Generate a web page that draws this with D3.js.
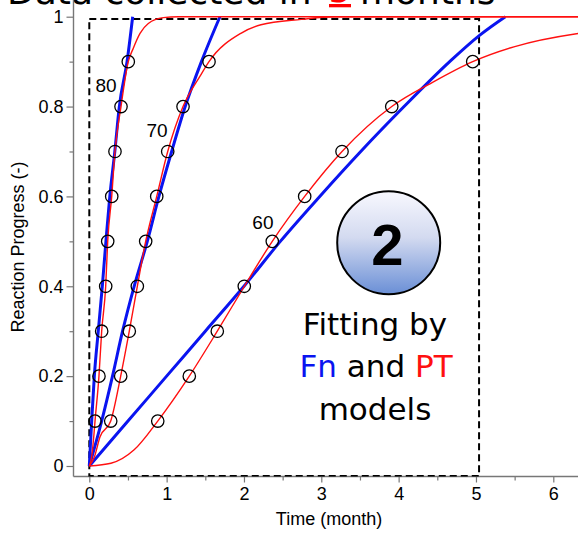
<!DOCTYPE html>
<html>
<head>
<meta charset="utf-8">
<script src="https://cdn.jsdelivr.net/npm/d3@7"></script>
<style>
  body { margin: 0; background: #fff; }
  svg { display: block; }
</style>
</head>
<body>
<div id="chart"></div>
<script>
// measured points: time (month) at which each conversion level is reached
var levels = [0.1, 0.2, 0.3, 0.4, 0.5, 0.6, 0.7, 0.8, 0.9];
var obs80 = [0.074, 0.125, 0.160, 0.212, 0.238, 0.290, 0.332, 0.410, 0.504];
var obs70 = [0.277, 0.406, 0.517, 0.621, 0.729, 0.872, 1.014, 1.212, 1.548];
var obs60 = [0.885, 1.293, 1.655, 2.004, 2.366, 2.785, 3.268, 3.911, 4.958];

// Fn model fits [time, progress]
var fn80 = [[0, 0], [0.031, 0.1], [0.065, 0.2], [0.116, 0.3], [0.168, 0.4], [0.215, 0.5],
            [0.265, 0.6], [0.33, 0.7], [0.388, 0.8], [0.488, 0.9], [0.561, 1]];
var fn70 = [[0, 0], [0.16, 0.1], [0.30, 0.2], [0.43, 0.3], [0.58, 0.4], [0.75, 0.5],
            [0.90, 0.6], [1.065, 0.7], [1.24, 0.8], [1.45, 0.9], [1.69, 1]];
var fn60 = [[0, 0], [0.5, 0.1], [1.0, 0.2], [1.5, 0.3], [2.0, 0.4], [2.47, 0.5],
            [2.98, 0.6], [3.51, 0.7], [4.07, 0.8], [4.66, 0.9], [5.05, 0.959], [5.38, 1]];

// PT model fits [time, progress]
var pt80 = [[0, 0], [0.03, 0.02], [0.06, 0.07], [0.074, 0.1], [0.125, 0.2], [0.16, 0.3], [0.212, 0.4],
            [0.238, 0.5], [0.29, 0.6], [0.332, 0.7], [0.41, 0.8], [0.504, 0.9], [0.569, 0.93],
            [0.656, 0.963], [0.763, 0.985], [0.957, 0.998], [1.15, 1], [6.5, 1]];
var pt70 = [[0, 0], [0.065, 0.02], [0.139, 0.065], [0.277, 0.1], [0.406, 0.2], [0.517, 0.3],
            [0.621, 0.4], [0.729, 0.5], [0.872, 0.6], [1.014, 0.7], [1.212, 0.8], [1.44, 0.87],
            [1.548, 0.9], [1.96, 0.963], [2.22, 0.982], [2.74, 0.994], [3.17, 1], [6.5, 1]];
var pt60 = [[0, 0], [0.28, 0.006], [0.58, 0.036], [0.885, 0.1], [1.293, 0.2], [1.655, 0.3],
            [2.004, 0.4], [2.366, 0.5], [2.785, 0.6], [3.268, 0.7], [3.911, 0.8], [4.45, 0.855],
            [4.958, 0.9], [5.49, 0.933], [6.33, 0.963], [6.5, 0.967]];

var tempLabels = ["80", "70", "60"];
var xTicks = [0, 1, 2, 3, 4, 5, 6];
var xMinor = [0.5, 1.5, 2.5, 3.5, 4.5, 5.5];
var yTicks = [0, 0.2, 0.4, 0.6, 0.8, 1];
var yMinor = [0.1, 0.3, 0.5, 0.7, 0.9];
var windowMonths = 5;

var width = 578, height = 536;
var axisX = 73.5, axisY = 476.5;

var svg = d3.select("#chart")
    .append("svg")
    .attr("width", width)
    .attr("height", height)

var x = d3.scaleLinear().domain([0, 6]).range([89.3, 553.3])
var y = d3.scaleLinear().domain([0, 1]).range([466, 16.7])

// title, mostly cut off at the top
var titleFont = "'DejaVu Sans', sans-serif"
svg.append("text")
    .attr("x", 7).attr("y", 3.5)
    .style("font-family", titleFont).style("font-size", "36px")
    .text("Data collected in")
svg.append("text")
    .attr("x", 340).attr("y", 2)
    .attr("text-anchor", "middle")
    .style("font-family", titleFont).style("font-size", "36px").style("fill", "red")
    .text(windowMonths)
svg.append("rect")
    .attr("x", 329).attr("y", 4).attr("width", 22).attr("height", 3.3)
    .attr("fill", "red")
svg.append("text")
    .attr("x", 360).attr("y", 3.5)
    .style("font-family", titleFont).style("font-size", "36px")
    .text("months")

// axes
var axisFont = "'Liberation Sans', Arial, Helvetica, sans-serif"

var yAxis = svg.append("g")
    .attr("transform", "translate(" + axisX + ",0)")
    .call(d3.axisLeft(y).tickValues(yTicks).tickSize(7).tickPadding(3).tickFormat(d3.format("")))
var yAxisMinor = svg.append("g")
    .attr("transform", "translate(" + axisX + ",0)")
    .call(d3.axisLeft(y).tickValues(yMinor).tickSize(4).tickFormat(""))

var xAxis = svg.append("g")
    .attr("transform", "translate(0," + axisY + ")")
    .call(d3.axisBottom(x).tickValues(xTicks).tickSize(6).tickPadding(5).tickFormat(d3.format("")))
var xAxisMinor = svg.append("g")
    .attr("transform", "translate(0," + axisY + ")")
    .call(d3.axisBottom(x).tickValues(xMinor).tickSize(4).tickFormat(""))

svg.selectAll(".domain").remove()
svg.selectAll(".tick line").attr("stroke", "#777").attr("stroke-width", 1.2)
svg.selectAll(".tick text")
    .style("font-family", axisFont)
    .style("font-size", "18px")
    .attr("fill", "#000")

svg.append("line")
    .attr("x1", axisX).attr("x2", axisX).attr("y1", 0).attr("y2", axisY)
    .attr("stroke", "#777").attr("stroke-width", 1.4)
svg.append("line")
    .attr("x1", axisX).attr("x2", width).attr("y1", axisY).attr("y2", axisY)
    .attr("stroke", "#777").attr("stroke-width", 1.4)

svg.append("text")
    .attr("x", 329).attr("y", 525)
    .attr("text-anchor", "middle")
    .style("font-family", axisFont).style("font-size", "18px")
    .text("Time (month)")
svg.append("text")
    .attr("transform", "translate(24,247) rotate(-90)")
    .attr("text-anchor", "middle")
    .style("font-family", axisFont).style("font-size", "18px")
    .text("Reaction Progress (-)")

// plot area
svg.append("clipPath").attr("id", "plotclip")
    .append("rect")
    .attr("x", axisX).attr("y", 0)
    .attr("width", width - axisX).attr("height", axisY)

var plot = svg.append("g").attr("clip-path", "url(#plotclip)")

// dashed window of collected data
plot.append("rect")
    .attr("x", x(0)).attr("y", y(0.995))
    .attr("width", x(5.04) - x(0))
    .attr("height", y(-0.022) - y(0.995))
    .attr("fill", "none")
    .attr("stroke", "#000")
    .attr("stroke-width", 2)
    .attr("stroke-dasharray", "7,4")

var line = d3.line()
    .x(function(d) { return x(d[0]) })
    .y(function(d) { return y(d[1]) })
    .curve(d3.curveMonotoneX)

plot.selectAll(".fn")
    .data([fn80, fn70, fn60])
    .enter().append("path")
    .attr("class", "fn")
    .attr("d", line)
    .attr("fill", "none")
    .attr("stroke", "#0a14f0")
    .attr("stroke-width", 3)

plot.selectAll(".pt")
    .data([pt80, pt70, pt60])
    .enter().append("path")
    .attr("class", "pt")
    .attr("d", line)
    .attr("fill", "none")
    .attr("stroke", "#ff1010")
    .attr("stroke-width", 1.4)

var points = []
;[obs80, obs70, obs60].forEach(function(s) {
    s.forEach(function(t, i) { points.push([t, levels[i]]) })
})

plot.selectAll(".obs")
    .data(points)
    .enter().append("circle")
    .attr("class", "obs")
    .attr("cx", function(d) { return x(d[0]) })
    .attr("cy", function(d) { return y(d[1]) })
    .attr("r", 6.2)
    .attr("fill", "none")
    .attr("stroke", "#000")
    .attr("stroke-width", 1.3)

// temperature labels
var labelAt = [[0.216, 0.832], [0.876, 0.732], [2.245, 0.527]]
svg.selectAll(".temp")
    .data(tempLabels)
    .enter().append("text")
    .attr("class", "temp")
    .attr("x", function(d, i) { return x(labelAt[i][0]) })
    .attr("y", function(d, i) { return y(labelAt[i][1]) })
    .attr("text-anchor", "middle")
    .style("font-family", axisFont).style("font-size", "19px")
    .text(function(d) { return d })

// badge
var grad = svg.append("defs").append("linearGradient")
    .attr("id", "badge").attr("x1", 0).attr("y1", 0).attr("x2", 0).attr("y2", 1)
grad.append("stop").attr("offset", "0%").attr("stop-color", "#f8f8fe")
grad.append("stop").attr("offset", "45%").attr("stop-color", "#d3daf0")
grad.append("stop").attr("offset", "100%").attr("stop-color", "#6a8fd6")

svg.append("circle")
    .attr("cx", 388.7).attr("cy", 242.7).attr("r", 51.5)
    .attr("fill", "url(#badge)")
    .attr("stroke", "#000").attr("stroke-width", 2)
svg.append("text")
    .attr("x", 387.5).attr("y", 265)
    .attr("text-anchor", "middle")
    .style("font-family", axisFont).style("font-size", "58px").style("font-weight", "bold")
    .text("2")

var noteFont = "'DejaVu Sans', sans-serif"
var note = svg.append("text")
    .attr("text-anchor", "middle")
    .style("font-family", noteFont).style("font-size", "31px")
note.append("tspan").attr("x", 375).attr("y", 335).text("Fitting by")
var l2 = note.append("tspan").attr("x", 376).attr("y", 377)
l2.append("tspan").attr("fill", "#0a14f0").text("Fn")
l2.append("tspan").text(" and ")
l2.append("tspan").attr("fill", "#ff1010").text("PT")
note.append("tspan").attr("x", 375).attr("y", 420).text("models")
</script>
</body>
</html>
